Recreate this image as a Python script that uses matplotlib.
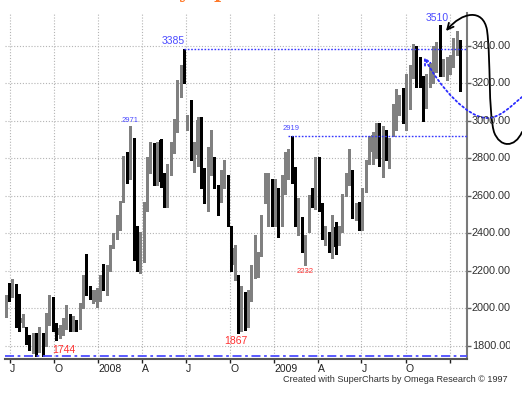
import pandas as pd
import matplotlib
matplotlib.use('Agg')
import matplotlib.pyplot as plt
import matplotlib.dates as mdates
from matplotlib.path import Path
from matplotlib.patches import FancyArrowPatch
from matplotlib.transforms import Bbox, TransformedBbox, blended_transform_factory

plt.rcParams['font.family'] = ['Liberation Sans', 'DejaVu Sans']

# weekly candles (open, high, low, close)
opens = [1965, 2120, 2085, 2110, 2050, 1920, 1880, 1850, 1790, 1840,
         1790, 1850, 1810, 1960, 2050, 1900, 1860, 1870, 1900, 1960,
         1900, 1920, 1900, 2010, 2200, 2090, 2060, 2035, 2061, 2200,
         2088, 2216, 2328, 2381, 2499, 2579, 2781, 2701, 2904, 2365,
         2245, 2270, 2536, 2739, 2790, 2690, 2900, 2670, 2590, 2725,
         2845, 2952, 3176, 3283, 2990, 3005, 2808, 2819, 3005, 2750,
         2640, 2845, 2803, 2648, 2605, 2696, 2701, 2435, 2230, 2152,
         1955, 2030, 1950, 2083, 2168, 2200, 2312, 2590, 2590, 2620,
         2530, 2590, 2605, 2675, 2755, 2819, 2728, 2510, 2488, 2330,
         2419, 2610, 2616, 2792, 2541, 2355, 2403, 2350, 2435, 2360,
         2419, 2605, 2712, 2696, 2490, 2552, 2445, 2632, 2776, 2835,
         2872, 2888, 2845, 2936, 2770, 2936, 2963, 3059, 3085, 3016,
         3176, 3245, 3370, 3300, 3180, 3075, 3200, 3229, 3300, 3432,
         3270, 3280, 3270, 3315, 3360, 3420]
highs = [2072, 2135, 2155, 2130, 2075, 1970, 1900, 1860, 1870, 1870,
         1900, 1870, 1975, 2070, 2060, 1920, 1910, 1950, 2020, 1970,
         1960, 1940, 2030, 2180, 2290, 2120, 2100, 2110, 2180, 2235,
         2230, 2340, 2400, 2500, 2575, 2815, 2835, 2971, 2910, 2440,
         2410, 2570, 2810, 2890, 2880, 2890, 2905, 2720, 2770, 2890,
         3010, 3220, 3300, 3385, 3030, 3112, 2890, 3020, 3020, 2750,
         2860, 2950, 2810, 2660, 2740, 2790, 2710, 2440, 2340, 2180,
         2120, 2090, 2100, 2230, 2390, 2300, 2500, 2720, 2720, 2690,
         2690, 2640, 2710, 2835, 2850, 2919, 2755, 2590, 2490, 2390,
         2605, 2640, 2808, 2810, 2560, 2440, 2410, 2500, 2460, 2440,
         2610, 2720, 2850, 2740, 2560, 2570, 2640, 2790, 2920, 2940,
         2990, 2990, 2975, 2950, 2910, 3090, 3170, 3140, 3175, 3250,
         3300, 3410, 3400, 3340, 3240, 3250, 3310, 3400, 3420, 3510,
         3330, 3340, 3350, 3440, 3480, 3430]
lows = [1955, 2040, 2060, 1900, 1880, 1900, 1810, 1780, 1760, 1745,
        1770, 1744, 1800, 1910, 1880, 1830, 1840, 1860, 1890, 1880,
        1880, 1880, 1890, 2000, 2070, 2050, 2030, 2010, 2040, 2100,
        2070, 2200, 2320, 2370, 2420, 2570, 2670, 2690, 2259, 2200,
        2190, 2250, 2520, 2720, 2660, 2660, 2650, 2540, 2540, 2710,
        2830, 2940, 3130, 3200, 2952, 2790, 2730, 2760, 2640, 2560,
        2520, 2710, 2640, 2500, 2570, 2640, 2440, 2200, 2150, 1867,
        1880, 1885, 1900, 2040, 2160, 2170, 2280, 2560, 2440, 2440,
        2440, 2380, 2440, 2610, 2690, 2669, 2440, 2390, 2300, 2232,
        2410, 2540, 2528, 2520, 2370, 2340, 2300, 2270, 2290, 2340,
        2410, 2600, 2660, 2480, 2470, 2420, 2420, 2620, 2770, 2770,
        2800, 2760, 2700, 2790, 2750, 2920, 2950, 3030, 2990, 2950,
        3065, 3230, 3180, 3180, 3000, 3070, 3180, 3200, 3260, 3240,
        3240, 3220, 3250, 3290, 3350, 3160]
closes = [2061, 2075, 2140, 2030, 1980, 1950, 1830, 1790, 1845, 1780,
          1885, 1800, 1960, 2050, 1920, 1860, 1895, 1940, 2000, 1910,
          1940, 1905, 2010, 2160, 2090, 2070, 2080, 2099, 2152, 2120,
          2216, 2328, 2381, 2488, 2563, 2803, 2712, 2909, 2296, 2248,
          2360, 2552, 2792, 2856, 2740, 2870, 2675, 2580, 2710, 2883,
          2980, 3208, 3283, 3229, 3016, 2792, 2824, 3005, 2685, 2595,
          2792, 2870, 2648, 2563, 2685, 2750, 2472, 2248, 2320, 1992,
          2056, 1940, 2099, 2168, 2381, 2240, 2408, 2600, 2630, 2536,
          2600, 2461, 2701, 2776, 2829, 2755, 2536, 2536, 2328, 2381,
          2595, 2570, 2792, 2536, 2435, 2435, 2339, 2488, 2328, 2430,
          2595, 2712, 2765, 2509, 2536, 2456, 2621, 2776, 2909, 2925,
          2968, 2819, 2968, 2808, 2900, 3075, 3155, 3096, 3005, 3245,
          3283, 3395, 3300, 3180, 3070, 3245, 3260, 3341, 3390, 3256,
          3285, 3300, 3340, 3416, 3420, 3260]

dates = pd.date_range('2007-06-22', periods=len(opens), freq='7D')

tick_dates = pd.to_datetime(['2007-07-01', '2007-10-01', '2008-01-01', '2008-04-01',
                             '2008-07-01', '2008-10-01', '2009-01-01', '2009-04-01',
                             '2009-07-01', '2009-10-01', '2010-01-01'])
tick_labels = ['J', 'O', '2008', 'A', 'J', 'O', '2009', 'A', 'J', 'O', '']
price_ticks = [1800, 2000, 2200, 2400, 2600, 2800, 3000, 3200, 3400]

# marked levels: (candle index, value)
peak_1, peak_1_val = 53, 3385
peak_2, peak_2_val = 129, 3510
high_mid, high_mid_val = 37, 2971
high_09, high_09_val = 85, 2919
low_09, low_09_val = 89, 2232
low_08, low_08_val = 69, 1867
low_07, low_07_val = 11, 1744

W, H = 522, 393
fig = plt.figure(figsize=(W / 100, H / 100), dpi=100)
ax = fig.add_axes([5 / W, (H - 358.5) / H, 462 / W, 345.5 / H])

up = '#808080'
down = '#000000'
colors = [up if c >= o else down for o, c in zip(opens, closes)]
xd = mdates.date2num(dates)

ax.vlines(xd, lows, highs, colors=colors, linewidth=0.8, zorder=2, antialiased=False)
bottoms = [min(o, c) for o, c in zip(opens, closes)]
heights = [max(abs(c - o), 6) for o, c in zip(opens, closes)]
ax.bar(xd, heights, bottom=bottoms, width=4.4, color=colors,
       linewidth=0, zorder=2, antialiased=False)

# reference levels
blue = '#3535ff'
far_right = mdates.date2num(pd.Timestamp('2011-01-01'))
ax.hlines(peak_1_val, xd[peak_1], far_right,
          colors=blue, linestyles=(0, (1.2, 1.2)), linewidth=1.0, zorder=3)
ax.hlines(high_09_val, xd[high_09 - 1], far_right,
          colors=blue, linestyles=(0, (1.2, 1.2)), linewidth=1.0, zorder=3)
ax.axhline(low_07_val, color='#4d4dff', linestyle=(0, (5, 2, 1.5, 2)), linewidth=1.3, zorder=3)

lbl_blue = '#4b4bff'
lbl_red = '#ff3030'
ax.annotate(str(peak_1_val), (xd[peak_1], peak_1_val), xytext=(1, 3), textcoords='offset pixels',
            ha='right', va='bottom', color=lbl_blue, fontsize=7.5)
ax.annotate(str(peak_2_val), (xd[peak_2], peak_2_val), xytext=(-3, 2), textcoords='offset pixels',
            ha='center', va='bottom', color=lbl_blue, fontsize=7.5)
ax.annotate(str(high_mid_val), (xd[high_mid], high_mid_val), xytext=(0, 2), textcoords='offset pixels',
            ha='center', va='bottom', color=lbl_blue, fontsize=5.5)
ax.annotate(str(high_09_val), (xd[high_09], high_09_val), xytext=(-1, 4), textcoords='offset pixels',
            ha='center', va='bottom', color=lbl_blue, fontsize=5.5)
ax.annotate(str(low_09_val), (xd[low_09], low_09_val), xytext=(0, -3), textcoords='offset pixels',
            ha='center', va='top', color=lbl_red, fontsize=5.5)
ax.annotate(str(low_08_val), (xd[low_08], low_08_val), xytext=(-2, -3), textcoords='offset pixels',
            ha='center', va='top', color=lbl_red, fontsize=7.5)
ax.annotate(str(low_07_val), (xd[low_07], low_07_val), xytext=(10, 1), textcoords='offset pixels',
            ha='left', va='bottom', color=lbl_red, fontsize=7.5)

# axes, grid
jul1 = mdates.date2num(pd.Timestamp('2007-07-01'))
ppd = 43.9 / 91.3
ax.set_xlim(jul1 - 5 / ppd, jul1 + 457 / ppd)
ax.set_ylim(1733, 3576)
ax.set_xticks(mdates.date2num(tick_dates))
ax.set_xticklabels(tick_labels, ha='left')
ax.set_yticks(price_ticks)
ax.yaxis.tick_right()
ax.tick_params(axis='x', length=3, width=1, pad=1, labelsize=7.5, colors='#202020')
ax.tick_params(axis='y', length=3, width=1, labelright=False, colors='#606060')
ax.grid(True, linestyle=(0, (1, 1.6)), color='#b4b4b4', linewidth=0.8, zorder=0)
for s in ['top', 'left']:
    ax.spines[s].set_visible(False)
ax.spines['bottom'].set_color('#555555')
ax.spines['bottom'].set_linewidth(1.5)
ax.spines['right'].set_color('#7a7a7a')
ax.spines['right'].set_linewidth(1.5)

# right price labels, cut at the window edge like the screenshot
clip = TransformedBbox(Bbox([[0, 0], [510 / W, 1]]), fig.transFigure)
ytrans = blended_transform_factory(fig.transFigure, ax.transData)
for v in price_ticks:
    t = fig.text(472 / W, v, f'{v:.3f}', transform=ytrans, ha='left', va='center',
                 fontsize=7.8, color='#303030')
    t.set_clip_box(clip)
    t.set_clip_on(True)

fig.text(508 / W, 1 - 379 / H, 'Created with SuperCharts by Omega Research \u00a9 1997',
         ha='right', va='center', fontsize=6.6, color='#303030')

# title, mostly above the visible window (only descenders show)
fig.text(178 / W, 1 + 2 / H, 'y', ha='left', va='baseline', fontsize=14,
         family='DejaVu Serif', weight='bold', color='#ff7a2a')
fig.text(214 / W, 1 + 2 / H, 'p', ha='left', va='baseline', fontsize=14,
         family='DejaVu Serif', weight='bold', color='#ff7a2a')


def fig_path(pts, codes):
    return Path([(x / W, 1 - y / H) for x, y in pts], codes)


C4 = Path.CURVE4
black_pts = [(522, 132), (515, 148), (500, 148), (494, 132),
             (488, 110), (491, 60), (487, 30),
             (483, 8), (462, 12), (446, 31)]
black_codes = [Path.MOVETO] + [C4] * 9
arr1 = FancyArrowPatch(path=fig_path(black_pts, black_codes), arrowstyle='->',
                       mutation_scale=11, color='black', linewidth=1.3,
                       transform=fig.transFigure)
fig.add_artist(arr1)

blue_pts = [(522, 97), (510, 107), (500, 118), (487, 118),
            (468, 118), (440, 88), (424, 57)]
blue_codes = [Path.MOVETO] + [C4] * 6
arr2 = FancyArrowPatch(path=fig_path(blue_pts, blue_codes), arrowstyle='->',
                       mutation_scale=11, color='#2a2aff', linewidth=1.3,
                       linestyle=(0, (1, 1.5)), transform=fig.transFigure)
fig.add_artist(arr2)

fig.savefig('out.png', dpi=100)
